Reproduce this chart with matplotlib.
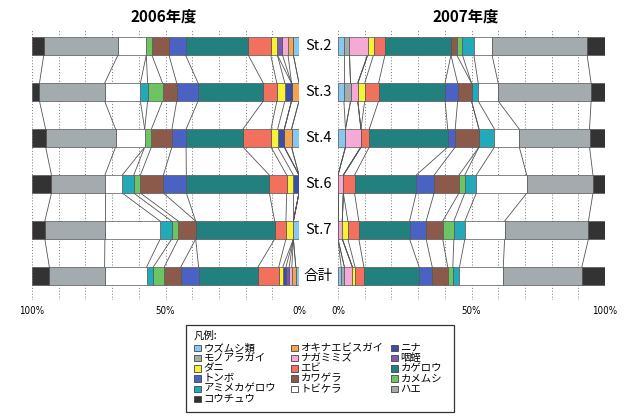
import matplotlib
matplotlib.use("Agg")
import matplotlib.pyplot as plt
from matplotlib.patches import Rectangle
import numpy as np

plt.rcParams['font.family'] = ['Noto Sans CJK JP', 'DejaVu Sans']

stations = ['St.2', 'St.3', 'St.4', 'St.6', 'St.7', '合計']

# stacking order, starting from 0%
categories = ['ウズムシ類', 'モノアラガイ', 'オキナエビスガイ', 'ナガミミズ', '咽蛭', 'ニナ',
              'ダニ', 'エビ', 'カゲロウ', 'トンボ', 'カワゲラ', 'カメムシ',
              'アミメカゲロウ', 'トビケラ', 'ハエ', 'コウチュウ']
colors = ['#86c8ef', '#a3abae', '#f2a354', '#f4aad4', '#7b5cb4', '#3b4ea6',
          '#f6f23a', '#f2705e', '#22807e', '#4a62c4', '#8c5a4a', '#6cc462',
          '#22a9ba', '#ffffff', '#a3abae', '#333333']
# legend columns as printed
legend_cols = [['ウズムシ類', 'モノアラガイ', 'ダニ', 'トンボ', 'アミメカゲロウ', 'コウチュウ'],
               ['オキナエビスガイ', 'ナガミミズ', 'エビ', 'カワゲラ', 'トビケラ'],
               ['ニナ', '咽蛭', 'カゲロウ', 'カメムシ', 'ハエ']]

# composition (%) per station, same order as categories
y2006_st2 = [2.1, 0, 2.0, 2.1, 1.9, 0, 2.5, 8.4, 23.5, 6.2, 6.4, 2.1, 0, 10.6, 27.8, 4.3]
y2006_st3 = [0, 0, 2.8, 0, 0, 2.5, 3.0, 5.1, 24.4, 8.0, 5.3, 5.6, 2.7, 13.4, 24.4, 2.8]
y2006_st4 = [2.8, 0, 2.7, 0, 0, 2.5, 2.5, 10.5, 21.3, 5.3, 7.7, 2.5, 0, 10.9, 26.2, 5.1]
y2006_st6 = [0, 0, 0, 0, 0, 2.1, 2.5, 6.5, 31.1, 8.6, 8.6, 2.5, 4.3, 6.5, 20.0, 7.3]
y2006_st7 = [2.1, 0, 0, 0, 0, 0, 2.8, 4.2, 29.6, 0, 6.5, 2.5, 4.3, 20.7, 22.5, 4.8]
y2006_all = [1.2, 0, 1.5, 1.0, 1.2, 1.2, 1.5, 7.8, 22.2, 6.7, 6.2, 4.1, 2.5, 15.7, 20.7, 6.5]

y2007_st2 = [2.2, 2.1, 0, 6.8, 0, 0, 2.2, 4.3, 24.7, 0, 2.2, 2.1, 4.3, 6.8, 35.6, 6.7]
y2007_st3 = [2.2, 2.5, 0, 2.7, 0, 0, 2.6, 5.2, 24.9, 4.7, 5.2, 0, 2.5, 7.5, 34.8, 5.2]
y2007_st4 = [2.8, 0, 0, 5.8, 0, 0, 0, 3.1, 29.4, 2.8, 8.9, 0, 5.8, 9.3, 26.3, 5.8]
y2007_st6 = [0, 0, 0, 2.0, 0, 0, 0, 4.2, 23.1, 6.7, 9.3, 2.2, 4.3, 18.9, 24.8, 4.5]
y2007_st7 = [0, 0, 0, 1.6, 0, 0, 2.1, 4.1, 19.0, 6.2, 6.2, 4.2, 4.1, 14.9, 31.4, 6.2]
y2007_all = [1.2, 1.2, 0, 3.0, 0, 0, 1.0, 3.3, 20.7, 4.9, 5.8, 1.9, 2.5, 16.4, 29.4, 8.6]

data_2006 = np.array([y2006_st2, y2006_st3, y2006_st4, y2006_st6, y2006_st7, y2006_all])
data_2007 = np.array([y2007_st2, y2007_st3, y2007_st4, y2007_st6, y2007_st7, y2007_all])

W, H = 627, 419
fig = plt.figure(figsize=(W / 100, H / 100), dpi=100)
fig.patch.set_facecolor('white')

bar_h = 0.39


def draw_panel(ax, data, reverse):
    ypos = np.arange(len(stations))
    cum = np.zeros(len(stations))
    for k, cat in enumerate(categories):
        vals = data[:, k]
        ax.barh(ypos, vals, left=cum, height=bar_h, color=colors[k],
                edgecolor='#555555', linewidth=0.5, zorder=3)
        cum = cum + vals
        if k == len(categories) - 1:
            continue
        # series lines between consecutive stations
        for i in range(len(stations) - 1):
            ax.plot([cum[i], cum[i + 1]], [i + bar_h / 2, i + 1 - bar_h / 2],
                    color='#555555', linewidth=0.6, zorder=2)
    ax.set_ylim(5.52, -0.35)
    if reverse:
        ax.set_xlim(100, 0)
    else:
        ax.set_xlim(0, 100)
    ax.set_xticks(np.arange(0, 101, 10))
    ax.set_xticklabels([f'{v}%' if v in (0, 50, 100) else '' for v in range(0, 101, 10)],
                       fontsize=7, fontfamily=['DejaVu Sans'], fontstretch='condensed')
    ax.tick_params(axis='x', length=0, pad=4)
    ax.set_yticks([])
    ax.grid(axis='x', linestyle=(0, (1, 2)), color='#777777', linewidth=0.7, zorder=0)
    for s in ax.spines.values():
        s.set_visible(False)


ax_l = fig.add_axes([32 / W, 1 - 300 / H, 267 / W, 270 / H])
ax_r = fig.add_axes([338 / W, 1 - 300 / H, 267 / W, 270 / H])
draw_panel(ax_l, data_2006, True)
draw_panel(ax_r, data_2007, False)

fig.text(164 / W, 1 - 17 / H, '2006年度', ha='center', va='center', fontsize=11, fontweight='bold')
fig.text(466 / W, 1 - 17 / H, '2007年度', ha='center', va='center', fontsize=11, fontweight='bold')

for i, st in enumerate(stations):
    yc = 1 - (46 + i * 46) / H
    fig.text(318 / W, yc, st, ha='center', va='center', fontsize=10.5)

# legend box, drawn by hand to keep the tight line spacing of the original
fig.add_artist(Rectangle((186 / W, 1 - 412 / H), 268 / W, 87 / H, transform=fig.transFigure,
                         facecolor='white', edgecolor='#333333', linewidth=0.9))
fig.text(194 / W, 1 - 336 / H, '凡例:', ha='left', va='center', fontsize=7.5)
col_x = [194, 291, 391]
sw = 6.5
for c, names in enumerate(legend_cols):
    for r, name in enumerate(names):
        yc = 348 + 10.2 * r
        k = categories.index(name)
        fig.add_artist(Rectangle((col_x[c] / W, 1 - (yc + sw / 2) / H), sw / W, sw / H,
                                 transform=fig.transFigure, facecolor=colors[k],
                                 edgecolor='#444444', linewidth=0.6))
        fig.text((col_x[c] + sw + 3) / W, 1 - yc / H, name, ha='left', va='center',
                 fontsize=7.5)

fig.savefig('out.png', dpi=100, facecolor='white')
